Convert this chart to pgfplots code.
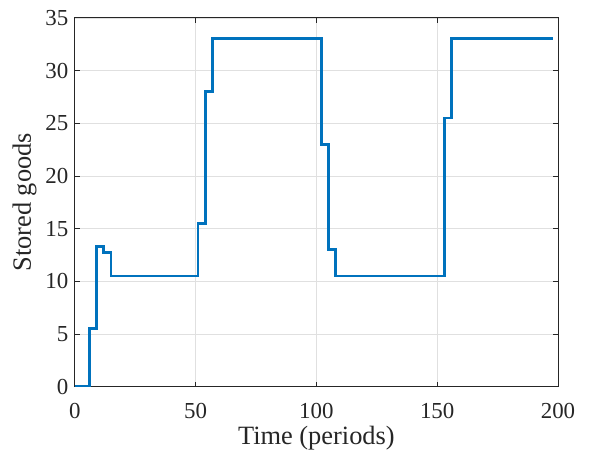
\documentclass[border=0pt]{standalone}
\usepackage{fontspec}
\setmainfont{Liberation Serif}
\usepackage{pgfplots}
\pgfplotsset{compat=1.18}
\definecolor{mblue}{rgb}{0,0.447,0.741}
\definecolor{maxis}{rgb}{0.15,0.15,0.15}
\begin{document}
\begin{tikzpicture}
\path[use as bounding box] (-74.8bp,-67.3bp) rectangle (515.2bp,386.7bp);
\begin{axis}[
    at={(0,0)}, anchor=south west,
    scale only axis,
    width=483.2bp, height=368.9bp,
    xmin=0, xmax=200, ymin=0, ymax=35,
    xtick={0,50,...,200}, ytick={0,5,...,35},
    tick align=inside,
    major tick length=5bp,
    axis line style={maxis, line width=0.7bp},
    every tick/.style={maxis, line width=0.7bp},
    grid=major,
    major grid style={line width=0.6bp, color=black!12},
    tick label style={font=\fontsize{23}{26}\selectfont, text=maxis},
    /pgf/number format/assume math mode=true,
    xlabel={Time (periods)}, ylabel={Stored goods},
    label style={font=\fontsize{26.5}{29}\selectfont, text=maxis},
    xlabel style={yshift=-1bp},
    ylabel style={yshift=2bp},
    xticklabel style={yshift=-13bp},
    yticklabel style={xshift=-3bp},
]
\addplot[const plot, mblue, line width=2.8bp] coordinates {
    (0,0) (6,5.5) (9,13.3) (12,12.7) (15,10.5) (51,15.5) (54,28) (57,33)
    (102,23) (105,13) (108,10.5) (153,25.5) (156,33) (198,33)
};
\end{axis}
\end{tikzpicture}
\end{document}
